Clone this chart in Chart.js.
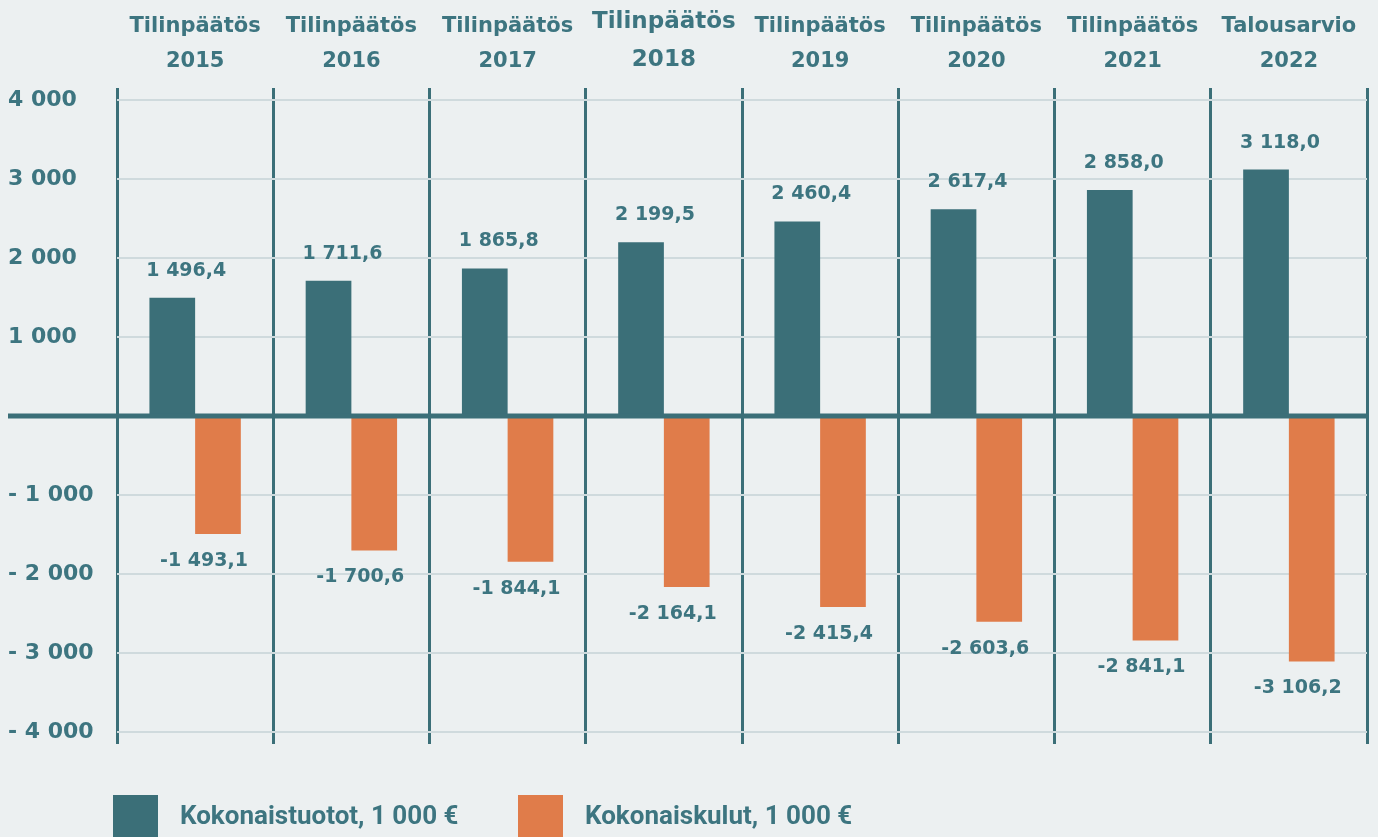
<!DOCTYPE html>
<html lang="fi">
<head>
  <meta charset="UTF-8" />
  <title>Kokonaistuotot ja kokonaiskulut 2015–2022</title>
  <script src="https://cdn.jsdelivr.net/npm/chart.js"></script>
  <style>
    html, body {
      margin: 0;
      padding: 0;
      background: #ecf0f1;
      overflow: hidden;
    }
    .wrap {
      width: 1378px;
      height: 837px;
      position: relative;
    }
  </style>
</head>
<body>
  <div class="wrap">
    <canvas id="tuloslaskelma"></canvas>
  </div>

  <script>
    // data
    const kaudet = ["Tilinpäätös", "Tilinpäätös", "Tilinpäätös", "Tilinpäätös",
                    "Tilinpäätös", "Tilinpäätös", "Tilinpäätös", "Talousarvio"];
    const vuodet = ["2015", "2016", "2017", "2018", "2019", "2020", "2021", "2022"];
    const tuotot = [1496.4, 1711.6, 1865.8, 2199.5, 2460.4, 2617.4, 2858.0, 3118.0];
    const kulut = [-1493.1, -1700.6, -1844.1, -2164.1, -2415.4, -2603.6, -2841.1, -3106.2];
    const yTicks = [4000, 3000, 2000, 1000, 0, -1000, -2000, -3000, -4000];

    const TEAL = "#3b6f78";
    const TEXT = "#3d7580";
    const ORANGE = "#e07c4a";
    const GRID = "#cfdadd";
    const FONT = "'DejaVu Sans', sans-serif";

    function thousands(n) {
      return String(n).replace(/\B(?=(\d{3})+(?!\d))/g, " ");
    }
    function fmtValue(v) {
      const parts = Math.abs(v).toFixed(1).split(".");
      return (v < 0 ? "-" : "") + thousands(parts[0]) + "," + parts[1];
    }
    function fmtTick(v) {
      if (v === 0) return "";
      return (v < 0 ? "- " : "") + thousands(Math.abs(v));
    }

    // zero line, value labels and legend
    const decorations = {
      id: "decorations",
      afterDatasetsDraw(chart) {
        const ctx = chart.ctx;
        const y = chart.scales.y;
        const area = chart.chartArea;
        const y0 = y.getPixelForValue(0);

        ctx.save();
        ctx.strokeStyle = TEAL;
        ctx.lineWidth = 5;
        ctx.beginPath();
        ctx.moveTo(y.left, y0);
        ctx.lineTo(area.right, y0);
        ctx.stroke();

        ctx.font = "bold 19px " + FONT;
        ctx.fillStyle = TEXT;
        ctx.textAlign = "center";
        ctx.textBaseline = "middle";
        chart.data.datasets.forEach((ds, i) => {
          chart.getDatasetMeta(i).data.forEach((bar, j) => {
            const v = ds.data[j];
            if (v >= 0) {
              ctx.fillText(fmtValue(v), bar.x + 14, bar.y - 27);
            } else {
              ctx.fillText(fmtValue(v), bar.x - 14, bar.y + 27);
            }
          });
        });
        ctx.restore();
      },
      afterDraw(chart) {
        const ctx = chart.ctx;
        const legendX = [113, 518];
        const top = 795;
        ctx.save();
        ctx.font = "bold 26px Roboto, sans-serif";
        ctx.textBaseline = "middle";
        ctx.textAlign = "left";
        chart.data.datasets.forEach((ds, i) => {
          ctx.fillStyle = ds.backgroundColor;
          ctx.fillRect(legendX[i], top, 45, 45);
          ctx.fillStyle = TEXT;
          ctx.fillText(ds.label, legendX[i] + 67, top + 22);
        });
        ctx.restore();
      }
    };

    new Chart(document.getElementById("tuloslaskelma"), {
      type: "bar",
      data: {
        labels: kaudet.map((k, i) => [k, vuodet[i]]),
        datasets: [
          {
            label: "Kokonaistuotot, 1 000 €",
            data: tuotot,
            backgroundColor: TEAL,
            categoryPercentage: 0.585,
            barPercentage: 1.0
          },
          {
            label: "Kokonaiskulut, 1 000 €",
            data: kulut,
            backgroundColor: ORANGE,
            categoryPercentage: 0.585,
            barPercentage: 1.0
          }
        ]
      },
      options: {
        responsive: true,
        maintainAspectRatio: false,
        animation: false,
        layout: {
          padding: { left: 8, right: 11, top: 0, bottom: 93 }
        },
        plugins: {
          legend: { display: false },
          tooltip: { enabled: false }
        },
        scales: {
          x: {
            position: "top",
            border: { display: false },
            grid: {
              offset: true,
              color: TEAL,
              lineWidth: 3,
              drawTicks: false
            },
            ticks: {
              color: TEXT,
              padding: 9,
              maxRotation: 0,
              autoSkip: false,
              font: ctx => ({
                family: FONT,
                weight: "bold",
                size: ctx.index === 3 ? 23 : 21,
                lineHeight: 1.65
              })
            },
            afterFit(axis) { axis.height = 88; }
          },
          y: {
            min: -4150,
            max: 4150,
            border: { display: false },
            afterBuildTicks(axis) {
              axis.ticks = yTicks.map(v => ({ value: v }));
            },
            grid: {
              color: ctx => (ctx.tick && ctx.tick.value === 0 ? "rgba(0,0,0,0)" : GRID),
              lineWidth: 2,
              drawTicks: false
            },
            ticks: {
              color: TEXT,
              crossAlign: "far",
              font: { family: FONT, weight: "bold", size: 22 },
              callback: v => fmtTick(v)
            },
            afterFit(axis) { axis.width = 109; }
          }
        }
      },
      plugins: [decorations]
    });
  </script>
</body>
</html>
